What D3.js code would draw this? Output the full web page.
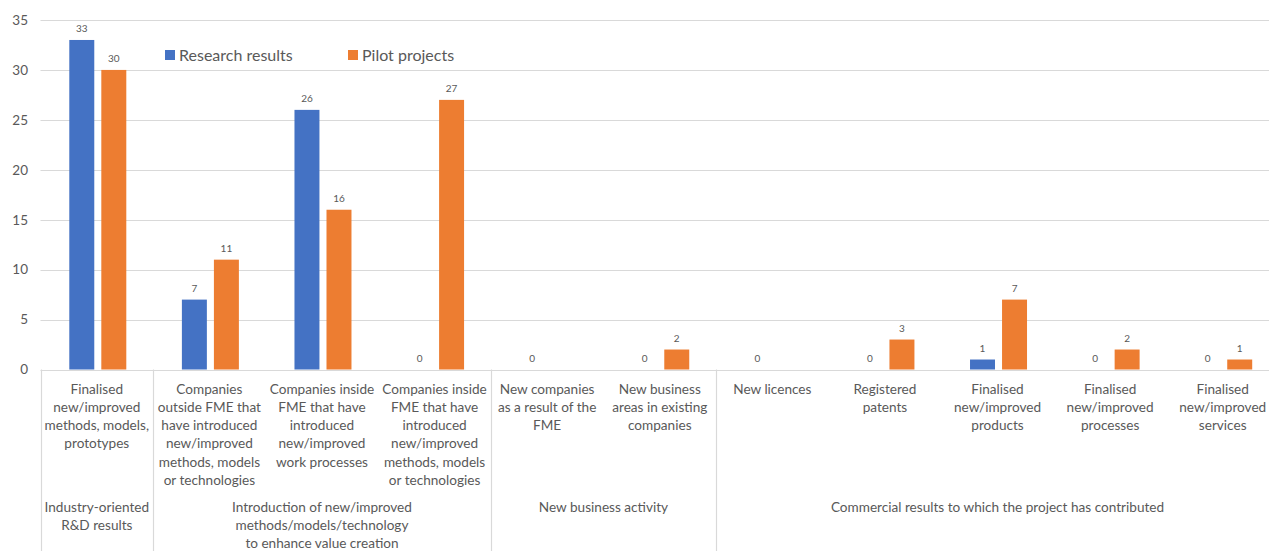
<!DOCTYPE html>
<html>
<head>
<meta charset="utf-8">
<script src="https://cdn.jsdelivr.net/npm/d3@7/dist/d3.min.js"></script>
<style>
  html, body { margin: 0; padding: 0; background: #fff; }
  svg { display: block; font-family: Lato, "Open Sans", sans-serif; }
</style>
</head>
<body>
<svg id="chart" width="1269" height="551"></svg>
<script>
// Category labels (line breaks as in the axis)
const categories = [
  "Finalised\nnew/improved\nmethods, models,\nprototypes",
  "Companies\noutside FME that\nhave introduced\nnew/improved\nmethods, models\nor technologies",
  "Companies inside\nFME that have\nintroduced\nnew/improved\nwork processes",
  "Companies inside\nFME that have\nintroduced\nnew/improved\nmethods, models\nor technologies",
  "New companies\nas a result of the\nFME",
  "New business\nareas in existing\ncompanies",
  "New licences",
  "Registered\npatents",
  "Finalised\nnew/improved\nproducts",
  "Finalised\nnew/improved\nprocesses",
  "Finalised\nnew/improved\nservices"
];

// Outer grouping of the categories: label, first index, last index
const groupLabels = [
  "Industry-oriented\nR&D results",
  "Introduction of new/improved\nmethods/models/technology\nto enhance value creation",
  "New business activity",
  "Commercial results to which the project has contributed"
];
const groupStart = [0, 1, 4, 6];
const groupEnd = [0, 3, 5, 10];

const seriesNames = ["Research results", "Pilot projects"];
const researchResults = [33, 7, 26, 0, 0, 0, 0, 0, 1, 0, 0];
const pilotProjects = [30, 11, 16, 27, null, 2, null, 3, 7, 2, 1];
const yTicks = [0, 5, 10, 15, 20, 25, 30, 35];

const colors = ["#4472C4", "#ED7D31"];
const textColor = "#595959";
const gridColor = "#d9d9d9";

const svg = d3.select("#chart");
const plotLeft = 40.5, plotRight = 1279, plotTop = 20, plotBottom = 369.5;

const x = d3.scaleBand().domain(d3.range(categories.length)).range([plotLeft, plotRight]);
const x1 = d3.scaleBand().domain(seriesNames).range([0, 57]).paddingInner(0.22);
const y = d3.scaleLinear().domain([0, 35]).range([plotBottom, plotTop]);

// Horizontal gridlines
svg.append("g")
  .selectAll("line")
  .data(yTicks)
  .join("line")
  .attr("x1", plotLeft).attr("x2", plotRight)
  .attr("y1", d => Math.round(y(d)) + 0.5).attr("y2", d => Math.round(y(d)) + 0.5)
  .attr("stroke", gridColor).attr("stroke-width", 1.2);

// Y axis labels
const yAxis = d3.axisLeft(y).tickValues(yTicks).tickSize(0).tickPadding(0);
const yg = svg.append("g").attr("transform", `translate(28,0)`).call(yAxis);
yg.select(".domain").remove();
yg.selectAll("text")
  .attr("fill", textColor)
  .style("font-size", "13.5px")
  .style("font-family", "Lato, 'Open Sans', sans-serif");

// Bars with value labels
const series = [researchResults, pilotProjects];
const pairOffset = (x.bandwidth() - 57) / 2 + 1;
series.forEach((vals, si) => {
  const g = svg.append("g");
  const pts = vals.map((v, i) => ({ v, i })).filter(d => d.v !== null);
  g.selectAll("rect")
    .data(pts.filter(d => d.v > 0))
    .join("rect")
    .attr("x", d => x(d.i) + pairOffset + x1(seriesNames[si]))
    .attr("width", x1.bandwidth())
    .attr("y", d => y(d.v))
    .attr("height", d => y(0) - y(d.v))
    .attr("fill", colors[si]);
  g.selectAll("text")
    .data(pts)
    .join("text")
    .attr("x", d => x(d.i) + pairOffset + x1(seriesNames[si]) + x1.bandwidth() / 2)
    .attr("y", d => y(d.v) - 8)
    .attr("text-anchor", "middle")
    .attr("fill", textColor)
    .style("font-size", "10px")
    .text(d => d.v);
});

// Category labels
const lineH = 18.3;
const catG = svg.append("g");
categories.forEach((c, i) => {
  const cx = x(i) + x.bandwidth() / 2;
  const t = catG.append("text")
    .attr("x", cx)
    .attr("y", 393.5)
    .attr("text-anchor", "middle")
    .attr("fill", textColor)
    .style("font-size", "13.6px");
  c.split("\n").forEach((line, k) => {
    t.append("tspan").attr("x", cx).attr("dy", k === 0 ? 0 : lineH).text(line);
  });
});

// Group separators and labels
const sepX = groupStart.map(s => x(s)).concat([x(groupEnd[groupEnd.length - 1]) + x.bandwidth()]);
svg.append("g")
  .selectAll("line")
  .data(sepX)
  .join("line")
  .attr("x1", d => Math.round(d) + 0.5).attr("x2", d => Math.round(d) + 0.5)
  .attr("y1", plotBottom).attr("y2", 551)
  .attr("stroke", gridColor).attr("stroke-width", 1.2);

groupLabels.forEach((gl, gi) => {
  const cx = (x(groupStart[gi]) + x(groupEnd[gi]) + x.bandwidth()) / 2;
  const t = svg.append("text")
    .attr("x", cx)
    .attr("y", 512)
    .attr("text-anchor", "middle")
    .attr("fill", textColor)
    .style("font-size", "13.6px");
  gl.split("\n").forEach((line, k) => {
    t.append("tspan").attr("x", cx).attr("dy", k === 0 ? 0 : 17.8).text(line);
  });
});

// Legend
const legendX = [165, 348];
const lg = svg.append("g");
seriesNames.forEach((name, i) => {
  lg.append("rect")
    .attr("x", legendX[i]).attr("y", 50)
    .attr("width", 10).attr("height", 10)
    .attr("fill", colors[i]);
  lg.append("text")
    .attr("x", legendX[i] + 14).attr("y", 60.5)
    .attr("fill", textColor)
    .style("font-size", "16px")
    .text(name);
});
</script>
</body>
</html>
